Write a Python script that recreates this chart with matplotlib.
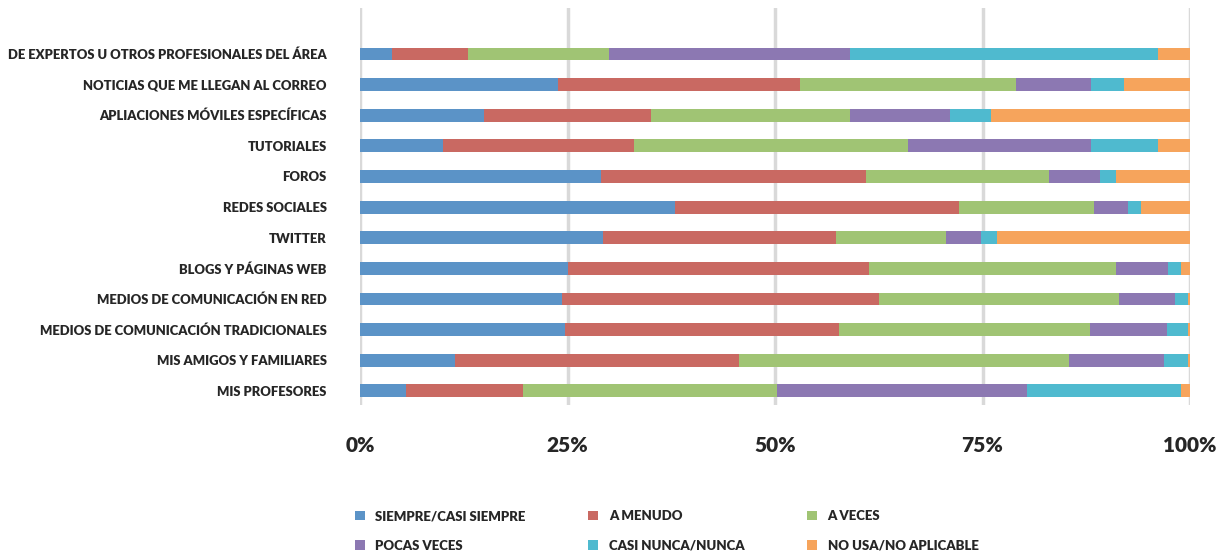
import numpy as np
import matplotlib
matplotlib.use("Agg")
import matplotlib.pyplot as plt
from matplotlib.patches import Patch

plt.rcParams['font.family'] = ['Lato', 'DejaVu Sans']

categories = [
    "DE EXPERTOS U OTROS PROFESIONALES DEL ÁREA",
    "NOTICIAS QUE ME LLEGAN AL CORREO",
    "APLIACIONES MÓVILES ESPECÍFICAS",
    "TUTORIALES",
    "FOROS",
    "REDES SOCIALES",
    "TWITTER",
    "BLOGS Y PÁGINAS WEB",
    "MEDIOS DE COMUNICACIÓN EN RED",
    "MEDIOS DE COMUNICACIÓN TRADICIONALES",
    "MIS AMIGOS Y FAMILIARES",
    "MIS PROFESORES",
]

series_names = ["SIEMPRE/CASI SIEMPRE", "A MENUDO", "A VECES",
                "POCAS VECES", "CASI NUNCA/NUNCA", "NO USA/NO APLICABLE"]

siempre     = [3.9, 23.9, 14.9, 10.0, 29.0, 38.0, 29.3, 25.0, 24.3, 24.7, 11.4, 5.5]
a_menudo    = [9.1, 29.1, 20.1, 23.0, 32.0, 34.2, 28.0, 36.3, 38.2, 33.0, 34.3, 14.1]
a_veces     = [17.0, 26.0, 24.0, 33.0, 22.0, 16.2, 13.3, 29.8, 28.9, 30.3, 39.7, 30.7]
pocas_veces = [29.0, 9.1, 12.1, 22.1, 6.1, 4.1, 4.2, 6.2, 6.8, 9.2, 11.5, 30.1]
casi_nunca  = [37.1, 4.0, 4.9, 8.0, 2.0, 1.6, 1.9, 1.6, 1.6, 2.5, 2.8, 18.5]
no_usa      = [3.9, 7.9, 24.0, 3.9, 8.9, 5.9, 23.3, 1.1, 0.2, 0.3, 0.3, 1.1]

colors = ["#5b93c7", "#c96962", "#a0c474", "#8c78b2", "#4fbacf", "#f6a45c"]

data = [siempre, a_menudo, a_veces, pocas_veces, casi_nunca, no_usa]

fig = plt.figure(figsize=(12.26, 5.53), dpi=100)
ax = fig.add_axes([360 / 1226, 1 - 405 / 553, 830 / 1226, 397 / 553])

y = np.arange(len(categories))[::-1]
left = np.zeros(len(categories))
for vals, col, name in zip(data, colors, series_names):
    vals = np.array(vals)
    ax.barh(y, vals, left=left, height=0.42, color=col, label=name, zorder=3)
    left += vals

ax.set_xlim(0, 100)
ax.set_ylim(-0.46, len(categories) + 0.5)
ax.set_xticks([0, 25, 50, 75, 100])
ax.set_xticklabels(["0%", "25%", "50%", "75%", "100%"])
ax.grid(axis="x", color="#d9d9d9", linewidth=2.5, zorder=0)
ax.set_yticks(y)
ax.set_yticklabels(categories)
for s in ax.spines.values():
    s.set_visible(False)
ax.tick_params(axis="y", length=0, pad=24, labelsize=9.4, labelcolor="#262626")
ax.tick_params(axis="x", length=0, pad=22, labelsize=15, labelcolor="#262626")
for lbl in ax.get_yticklabels() + ax.get_xticklabels():
    lbl.set_fontweight("heavy")

handles = [Patch(facecolor=c, edgecolor="none") for c in colors]
# legend fills column-wise, so reorder for 3 cols x 2 rows
order = [0, 3, 1, 4, 2, 5]
leg = fig.legend([handles[i] for i in order], [series_names[i] for i in order],
                 ncol=3, loc="center left", bbox_to_anchor=(343 / 1226, 1 - 531 / 553),
                 frameon=False, handlelength=0.75, handleheight=0.75,
                 columnspacing=4.75, labelspacing=1.35, handletextpad=0.8,
                 prop={"weight": "heavy", "size": 9.5})
for t in leg.get_texts():
    t.set_color("#262626")

fig.savefig("out.png", dpi=100)
